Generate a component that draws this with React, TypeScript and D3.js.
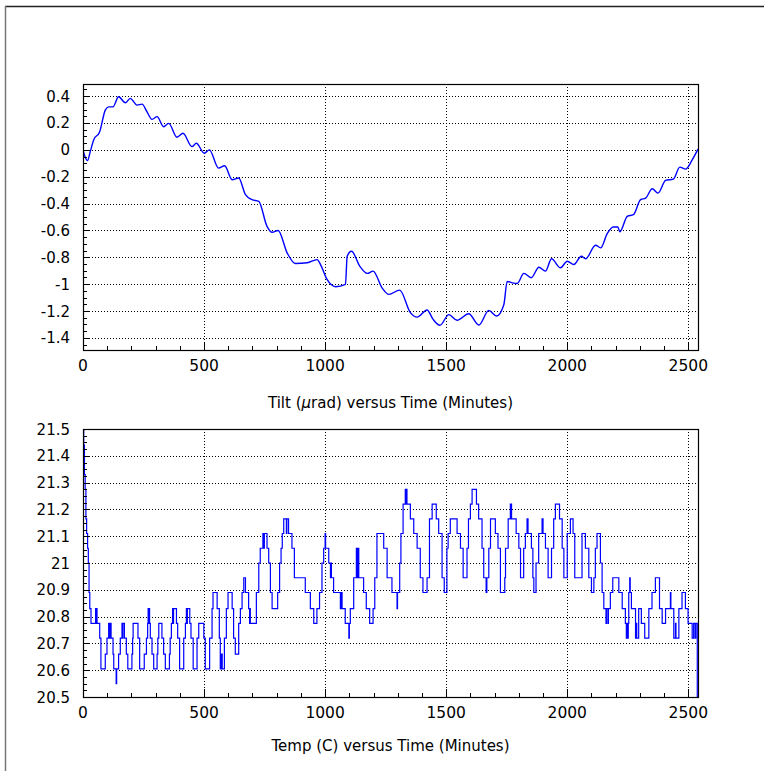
import React from "react";
import * as d3 from "d3";

// ---------- data ----------
const tiltTime = [0, 8, 19, 30, 44, 69, 92, 106, 124, 147, 175, 195, 223, 244, 264, 285, 306, 333, 354, 388, 413, 450, 468, 501, 522, 560, 585, 616, 643, 671, 698, 726, 760, 781, 806, 843, 877, 926, 967, 981, 1008, 1043, 1084, 1091, 1109, 1143, 1174, 1198, 1235, 1263, 1308, 1352, 1380, 1421, 1446, 1474, 1511, 1545, 1593, 1635, 1676, 1708, 1738, 1752, 1773, 1793, 1821, 1851, 1883, 1910, 1935, 1972, 2000, 2027, 2058, 2076, 2117, 2138, 2165, 2190, 2209, 2217, 2248, 2273, 2303, 2324, 2351, 2375, 2406, 2438, 2465, 2489, 2516, 2540];
const tiltValue = [0, -0.05, -0.08, -0.013, 0.074, 0.135, 0.296, 0.32, 0.32, 0.395, 0.35, 0.383, 0.333, 0.34, 0.284, 0.227, 0.247, 0.172, 0.197, 0.094, 0.123, 0.024, 0.049, -0.025, 0, -0.136, -0.119, -0.223, -0.21, -0.334, -0.371, -0.384, -0.57, -0.614, -0.6, -0.767, -0.846, -0.841, -0.817, -0.854, -0.965, -1.019, -1.002, -0.792, -0.755, -0.866, -0.92, -0.903, -1.027, -1.076, -1.044, -1.212, -1.245, -1.192, -1.262, -1.306, -1.227, -1.269, -1.22, -1.304, -1.195, -1.237, -1.153, -0.98, -0.99, -0.995, -0.92, -0.952, -0.874, -0.903, -0.811, -0.878, -0.829, -0.854, -0.792, -0.811, -0.71, -0.73, -0.624, -0.574, -0.574, -0.611, -0.495, -0.483, -0.371, -0.359, -0.29, -0.322, -0.228, -0.218, -0.129, -0.144, -0.075, 0.005];

const tempTime = [0, 3, 6, 9, 12, 15, 19, 22, 25, 28, 33, 52, 54, 55, 58, 69, 74, 92, 99, 106, 108, 110, 112, 113, 116, 124, 127, 137, 139, 147, 154, 161, 163, 165, 171, 179, 185, 202, 205, 207, 227, 234, 253, 262, 267, 269, 271, 272, 275, 278, 285, 292, 306, 309, 313, 326, 333, 340, 357, 360, 365, 370, 372, 374, 386, 391, 399, 416, 423, 427, 429, 431, 441, 446, 455, 471, 478, 499, 505, 523, 533, 537, 554, 563, 567, 569, 571, 573, 575, 584, 592, 599, 616, 622, 629, 643, 650, 657, 664, 671, 684, 688, 690, 691, 716, 726, 732, 743, 747, 749, 760, 767, 774, 781, 804, 812, 818, 823, 829, 840, 842, 849, 863, 873, 918, 939, 953, 966, 977, 987, 994, 1000, 1002, 1015, 1022, 1024, 1026, 1035, 1063, 1068, 1070, 1083, 1098, 1100, 1104, 1118, 1129, 1131, 1133, 1136, 1137, 1139, 1159, 1170, 1184, 1198, 1205, 1214, 1242, 1256, 1276, 1297, 1299, 1308, 1313, 1322, 1331, 1334, 1336, 1338, 1352, 1366, 1380, 1393, 1404, 1421, 1431, 1442, 1459, 1469, 1483, 1492, 1503, 1508, 1517, 1545, 1559, 1570, 1586, 1592, 1600, 1607, 1625, 1634, 1648, 1655, 1665, 1668, 1676, 1683, 1703, 1714, 1724, 1742, 1745, 1756, 1765, 1770, 1789, 1800, 1807, 1820, 1827, 1834, 1838, 1852, 1858, 1862, 1871, 1882, 1896, 1900, 1910, 1921, 1935, 1944, 1951, 1968, 1979, 1986, 2000, 2013, 2024, 2031, 2061, 2075, 2089, 2100, 2110, 2116, 2123, 2137, 2144, 2151, 2160, 2162, 2168, 2170, 2178, 2188, 2213, 2227, 2240, 2244, 2246, 2250, 2252, 2254, 2258, 2260, 2265, 2282, 2285, 2287, 2295, 2306, 2320, 2337, 2350, 2364, 2381, 2392, 2406, 2426, 2428, 2440, 2447, 2449, 2461, 2474, 2488, 2499, 2516, 2522, 2528, 2531, 2537, 2541];
const tempValue = [21.5, 21.44, 21.33, 21.275, 21.165, 21.11, 21.055, 21.0, 20.89, 20.83, 20.775, 20.83, 20.775, 20.83, 20.775, 20.72, 20.605, 20.66, 20.72, 20.775, 20.72, 20.775, 20.72, 20.775, 20.72, 20.66, 20.605, 20.55, 20.605, 20.66, 20.72, 20.775, 20.72, 20.775, 20.72, 20.66, 20.605, 20.66, 20.72, 20.775, 20.72, 20.605, 20.66, 20.72, 20.775, 20.83, 20.775, 20.83, 20.775, 20.72, 20.66, 20.605, 20.66, 20.72, 20.775, 20.72, 20.66, 20.605, 20.66, 20.72, 20.775, 20.83, 20.775, 20.83, 20.775, 20.72, 20.605, 20.72, 20.775, 20.83, 20.775, 20.83, 20.775, 20.72, 20.605, 20.72, 20.775, 20.72, 20.605, 20.72, 20.83, 20.89, 20.83, 20.72, 20.605, 20.66, 20.605, 20.66, 20.605, 20.72, 20.83, 20.89, 20.83, 20.72, 20.66, 20.775, 20.83, 20.89, 20.945, 20.89, 20.83, 20.775, 20.83, 20.775, 20.89, 21.0, 21.055, 21.11, 21.055, 21.11, 21.055, 21.0, 20.89, 20.83, 20.89, 21.0, 21.055, 21.11, 21.165, 21.11, 21.165, 21.11, 21.055, 20.945, 20.89, 20.83, 20.775, 20.83, 20.89, 21.0, 21.055, 21.11, 21.055, 21.0, 20.945, 21.0, 20.945, 20.89, 20.83, 20.89, 20.83, 20.775, 20.72, 20.775, 20.83, 20.945, 21.055, 20.945, 21.055, 20.945, 21.055, 20.945, 20.89, 20.83, 20.775, 20.83, 20.945, 21.11, 21.055, 20.945, 20.89, 20.83, 20.89, 21.0, 21.11, 21.22, 21.275, 21.22, 21.275, 21.22, 21.165, 21.11, 21.055, 20.945, 20.89, 20.945, 21.165, 21.22, 21.165, 21.11, 20.945, 20.89, 21.055, 21.11, 21.165, 21.11, 21.055, 20.945, 21.055, 21.165, 21.22, 21.275, 21.22, 21.165, 21.055, 20.945, 20.89, 20.945, 21.055, 21.165, 21.11, 21.055, 20.89, 20.945, 21.055, 21.165, 21.22, 21.165, 21.11, 21.055, 20.945, 21.055, 21.11, 21.165, 21.11, 21.055, 20.945, 20.89, 21.0, 21.11, 21.165, 21.11, 21.055, 20.945, 21.055, 21.165, 21.22, 21.165, 21.055, 20.945, 21.11, 21.165, 21.11, 20.945, 21.11, 21.055, 20.945, 20.89, 20.945, 21.055, 21.11, 21.0, 20.89, 20.83, 20.775, 20.83, 20.775, 20.83, 20.89, 20.945, 20.89, 20.83, 20.775, 20.72, 20.775, 20.72, 20.775, 20.89, 20.945, 20.89, 20.83, 20.72, 20.775, 20.72, 20.83, 20.775, 20.72, 20.83, 20.89, 20.945, 20.83, 20.775, 20.83, 20.89, 20.83, 20.72, 20.775, 20.72, 20.83, 20.89, 20.83, 20.775, 20.72, 20.775, 20.72, 20.775, 20.5, 20.5];

const timeTicks = [0, 500, 1000, 1500, 2000, 2500];
const timeLabels = ["0", "500", "1000", "1500", "2000", "2500"];
const tiltTicks = [0.4, 0.2, 0, -0.2, -0.4, -0.6, -0.8, -1, -1.2, -1.4];
const tiltLabels = ["0.4", "0.2", "0", "-0.2", "-0.4", "-0.6", "-0.8", "-1", "-1.2", "-1.4"];
const tempTicks = [20.5, 20.6, 20.7, 20.8, 20.9, 21, 21.1, 21.2, 21.3, 21.4, 21.5];
const tempLabels = ["20.5", "20.6", "20.7", "20.8", "20.9", "21", "21.1", "21.2", "21.3", "21.4", "21.5"];

const FONT = "DejaVu Sans";
const BLUE = "#0000ff";

type PanelProps = {
  id: string;
  top: number;
  bottom: number;
  yDomain: [number, number];
  yTicks: number[];
  yLabels: string[];
  yMinor: number;
  xs: number[];
  ys: number[];
  stepped: boolean;
  title: React.ReactNode;
  titleY: number;
};

function Panel(p: PanelProps) {
  const left = 83;
  const right = 698;
  const x = d3.scaleLinear().domain([0, 2540]).range([left, right]);
  const y = d3.scaleLinear().domain(p.yDomain).range([p.bottom, p.top]);
  const pts: [number, number][] = p.xs.map((t, i) => [t, p.ys[i]]);
  const line = d3
    .line<[number, number]>()
    .x((d) => x(d[0]))
    .y((d) => y(d[1]))
    .curve(p.stepped ? d3.curveStepAfter : d3.curveMonotoneX);
  const xMinor = d3.range(0, 2540 + 1e-9, 100);
  const start = Math.ceil(p.yDomain[0] / p.yMinor - 1e-9) * p.yMinor;
  const yMinor = d3.range(start, p.yDomain[1] + 1e-9, p.yMinor);
  const gridDash = "1,2";
  return (
    <g>
      <defs>
        <clipPath id={p.id}>
          <rect x={left} y={p.top} width={right - left + 1} height={p.bottom - p.top} />
        </clipPath>
      </defs>
      {timeTicks.map((t) => (
        <line key={"gx" + t} x1={Math.round(x(t)) + 0.5} x2={Math.round(x(t)) + 0.5} y1={p.top} y2={p.bottom} stroke="#000" strokeWidth={1} strokeDasharray={gridDash} />
      ))}
      {p.yTicks.map((v) => (
        <line key={"gy" + v} x1={left} x2={right} y1={Math.round(y(v)) + 0.5} y2={Math.round(y(v)) + 0.5} stroke="#000" strokeWidth={1} strokeDasharray={gridDash} />
      ))}
      <path d={line(pts) || ""} fill="none" stroke={BLUE} strokeWidth={p.stepped ? 1.2 : 1.4} clipPath={`url(#${p.id})`} />
      <rect x={left + 0.5} y={p.top + 0.5} width={right - left} height={p.bottom - p.top} fill="none" stroke="#000" strokeWidth={1.2} />
      {xMinor.map((t) => {
        const major = t % 500 === 0;
        const xx = Math.round(x(t)) + 0.5;
        return <line key={"xt" + t} x1={xx} x2={xx} y1={p.bottom} y2={p.bottom - (major ? 8 : 4)} stroke="#000" strokeWidth={1} />;
      })}
      {yMinor.map((v, i) => {
        const major = p.yTicks.some((m) => Math.abs(m - v) < 1e-6);
        const yy = Math.round(y(v)) + 0.5;
        return <line key={"yt" + i} x1={left} x2={left + (major ? 7 : 4)} y1={yy} y2={yy} stroke="#000" strokeWidth={1} />;
      })}
      {timeTicks.map((t, i) => (
        <text key={"xl" + t} x={x(t)} y={p.bottom + 21} textAnchor="middle" fontFamily={FONT} fontSize={15.5} fill="#000">
          {timeLabels[i]}
        </text>
      ))}
      {p.yTicks.map((v, i) => (
        <text key={"yl" + v} x={70} y={y(v) + 5.5} textAnchor="end" fontFamily={FONT} fontSize={15} fill="#000">
          {p.yLabels[i]}
        </text>
      ))}
      <text x={(left + right) / 2} y={p.titleY} textAnchor="middle" fontFamily={FONT} fontSize={15} fill="#000">
        {p.title}
      </text>
    </g>
  );
}

export default function App() {
  return (
    <svg width={764} height={771} style={{ position: "absolute", left: 0, top: 0, background: "#fff" }}>
      <rect x={0} y={0} width={764} height={771} fill="#fff" />
      <line x1={5} x2={764} y1={6.5} y2={6.5} stroke="#222" strokeWidth={1.5} />
      <line x1={5.5} x2={5.5} y1={6} y2={771} stroke="#777" strokeWidth={1.5} />
      <Panel
        id="clipTilt"
        top={84}
        bottom={350}
        yDomain={[-1.49, 0.49]}
        yTicks={tiltTicks}
        yLabels={tiltLabels}
        yMinor={0.05}
        xs={tiltTime}
        ys={tiltValue}
        stepped={false}
        titleY={408}
        title={
          <>
            {"Tilt ("}
            <tspan fontStyle="italic">μ</tspan>
            {"rad) versus Time (Minutes)"}
          </>
        }
      />
      <Panel
        id="clipTemp"
        top={429}
        bottom={697}
        yDomain={[20.5, 21.5]}
        yTicks={tempTicks}
        yLabels={tempLabels}
        yMinor={0.025}
        xs={tempTime}
        ys={tempValue}
        stepped={true}
        titleY={751}
        title="Temp (C) versus Time (Minutes)"
      />
    </svg>
  );
}
